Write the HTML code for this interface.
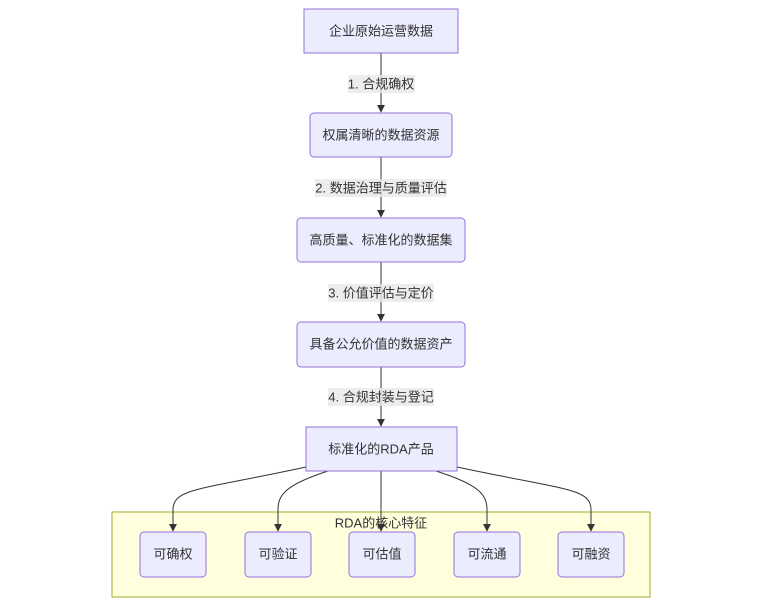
<!DOCTYPE html>
<html><head><meta charset="utf-8"><style>
body{margin:0;background:#fff;}
svg text{font-family:"Liberation Sans","Noto Sans CJK SC",sans-serif;font-size:13px;fill:#333;text-anchor:middle;dominant-baseline:central;}
.n{fill:#ECECFF;stroke:#9370DB;stroke-width:1;}
.e{fill:none;stroke:#333;stroke-width:1;}
.lb{fill:#e8e8e8;opacity:0.8;}
</style></head><body>
<svg width="760" height="604" viewBox="0 0 760 604" xmlns="http://www.w3.org/2000/svg">
<defs><marker id="a" viewBox="0 0 10 10" refX="9" refY="5" markerWidth="8" markerHeight="8" orient="auto"><path d="M0,0L10,5L0,10z" fill="#333"/></marker></defs>
<rect x="112" y="512" width="538" height="85" fill="#ffffde" stroke="#aaaa33"/>
<text x="381" y="523">RDA的核心特征</text>
<path class="e" d="M381,53V112" marker-end="url(#a)"/>
<path class="e" d="M381,157V217" marker-end="url(#a)"/>
<path class="e" d="M381,262V321" marker-end="url(#a)"/>
<path class="e" d="M381,367V426" marker-end="url(#a)"/>
<path class="e" d="M306,467C200,490 173,488 173,510V531" marker-end="url(#a)"/>
<path class="e" d="M328,471C285,485 278,495 278,510V531" marker-end="url(#a)"/>
<path class="e" d="M381,471V531" marker-end="url(#a)"/>
<path class="e" d="M436,471C480,485 487,495 487,510V531" marker-end="url(#a)"/>
<path class="e" d="M457,467C565,490 591,488 591,510V531" marker-end="url(#a)"/>
<rect class="lb" x="348" y="75" width="67" height="18"/><text x="381" y="84">1. 合规确权</text>
<rect class="lb" x="315" y="179" width="132" height="18"/><text x="381" y="188">2. 数据治理与质量评估</text>
<rect class="lb" x="328" y="284" width="106" height="18"/><text x="381" y="293">3. 价值评估与定价</text>
<rect class="lb" x="328" y="388" width="106" height="18"/><text x="381" y="397">4. 合规封装与登记</text>
<rect class="n" x="304" y="9" width="154" height="44"/><text x="381" y="31">企业原始运营数据</text>
<rect class="n" x="310" y="113" width="142" height="44" rx="4"/><text x="381" y="135">权属清晰的数据资源</text>
<rect class="n" x="297" y="218" width="168" height="44" rx="4"/><text x="381" y="240">高质量、标准化的数据集</text>
<rect class="n" x="297" y="322" width="168" height="45" rx="4"/><text x="381" y="344">具备公允价值的数据资产</text>
<rect class="n" x="306" y="427" width="151" height="44"/><text x="381" y="449">标准化的RDA产品</text>
<rect class="n" x="140" y="532" width="66" height="45" rx="4"/><text x="173" y="554">可确权</text>
<rect class="n" x="245" y="532" width="66" height="45" rx="4"/><text x="278" y="554">可验证</text>
<rect class="n" x="349" y="532" width="66" height="45" rx="4"/><text x="382" y="554">可估值</text>
<rect class="n" x="454" y="532" width="66" height="45" rx="4"/><text x="487" y="554">可流通</text>
<rect class="n" x="558" y="532" width="66" height="45" rx="4"/><text x="591" y="554">可融资</text>
</svg>
</body></html>
